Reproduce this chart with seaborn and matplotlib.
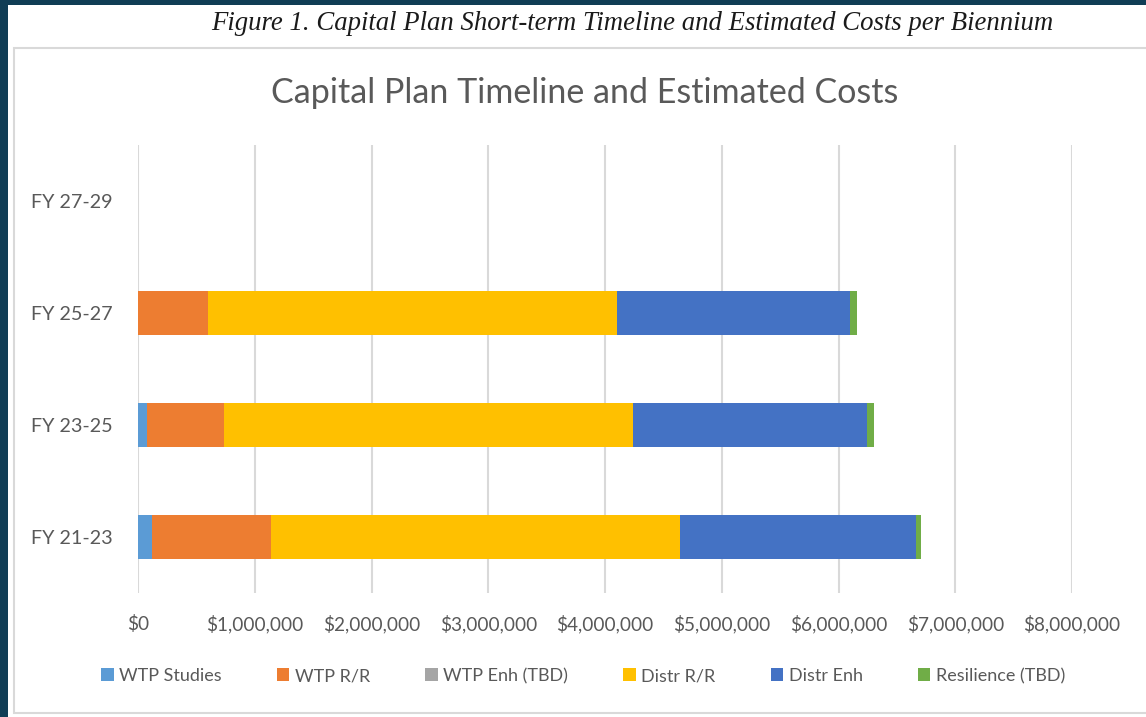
import matplotlib
matplotlib.use("Agg")
import matplotlib.pyplot as plt
from matplotlib.patches import Rectangle, Patch
from matplotlib.ticker import FuncFormatter, MultipleLocator
import numpy as np
import pandas as pd
import seaborn as sns

# ---- data (values in dollars) ----
periods = ["FY 27-29", "FY 25-27", "FY 23-25", "FY 21-23"]
series_names = ["WTP Studies", "WTP R/R", "WTP Enh (TBD)", "Distr R/R", "Distr Enh", "Resilience (TBD)"]
wtp_studies = [0, 0, 80000, 120000]
wtp_rr = [0, 600000, 660000, 1020000]
wtp_enh = [0, 0, 0, 0]
distr_rr = [0, 3500000, 3500000, 3500000]
distr_enh = [0, 2000000, 2000000, 2020000]
resilience = [0, 55000, 60000, 45000]
colors = ["#5B9BD5", "#ED7D31", "#A5A5A5", "#FFC000", "#4472C4", "#70AD47"]

sns.set_theme(style="white")
plt.rcParams["font.family"] = ["Lato", "DejaVu Sans"]

fig = plt.figure(figsize=(11.46, 7.17), dpi=100)
fig.patch.set_facecolor("#103d55")

# white page area and chart border
fig.add_artist(Rectangle((8 / 1146, 0), 1 - 8 / 1146, 1 - 5 / 717, transform=fig.transFigure,
                         facecolor="white", edgecolor="none", zorder=0))
fig.add_artist(Rectangle((14 / 1146, 4 / 717), 1.2, (713 - 48) / 717, transform=fig.transFigure,
                         facecolor="white", edgecolor="#D9D9D9", linewidth=1.5, zorder=0.5))

ax = fig.add_axes([138 / 1146, 1 - 593 / 717, (1072 - 138) / 1146, (593 - 145) / 717])
ax.set_zorder(2)
ax.set_facecolor("none")

df = pd.DataFrame({"period": periods})
layers = [wtp_studies, wtp_rr, wtp_enh, distr_rr, distr_enh, resilience]
cum = np.cumsum(np.array(layers, dtype=float), axis=0)
for i in range(len(layers) - 1, -1, -1):
    df["v"] = cum[i]
    sns.barplot(data=df, y="period", x="v", order=periods, orient="h", color=colors[i],
                saturation=1, width=0.39, ax=ax, edgecolor="none", linewidth=0, zorder=3)

ax.set_xlim(0, 8000000)
ax.set_ylim(3.5, -0.5)
ax.xaxis.set_major_locator(MultipleLocator(1000000))
ax.xaxis.set_major_formatter(FuncFormatter(lambda x, p: f"${x:,.0f}"))
ax.grid(axis="x", color="#D9D9D9", linewidth=1.5, zorder=0)
ax.grid(axis="y", visible=False)
ax.set_axisbelow(True)
for s in ax.spines.values():
    s.set_visible(False)
ax.set_xlabel("")
ax.set_ylabel("")
ax.tick_params(axis="x", length=0, labelsize=13.7, labelcolor="#595959", pad=16)
ax.tick_params(axis="y", length=0, labelsize=14.2, labelcolor="#595959", pad=18)

# titles
fig.text(632 / 1146, 1 - 24 / 717, "Figure 1. Capital Plan Short-term Timeline and Estimated Costs per Biennium",
         ha="center", va="center", fontsize=19.3, style="italic", family="Liberation Serif", color="#1a1a1a")
fig.text(585 / 1146, 1 - 93 / 717, "Capital Plan Timeline and Estimated Costs",
         ha="center", va="center", fontsize=24.5, color="#595959")

handles = [Patch(facecolor=c, edgecolor="none") for c in colors]
fig.legend(handles, series_names, loc="center", bbox_to_anchor=(583 / 1146, 1 - 676 / 717), ncol=6,
           frameon=False, fontsize=13, labelcolor="#595959", handlelength=0.7, handleheight=0.7,
           handletextpad=0.3, columnspacing=3.05)

fig.savefig("out.png", dpi=100, facecolor=fig.get_facecolor())
